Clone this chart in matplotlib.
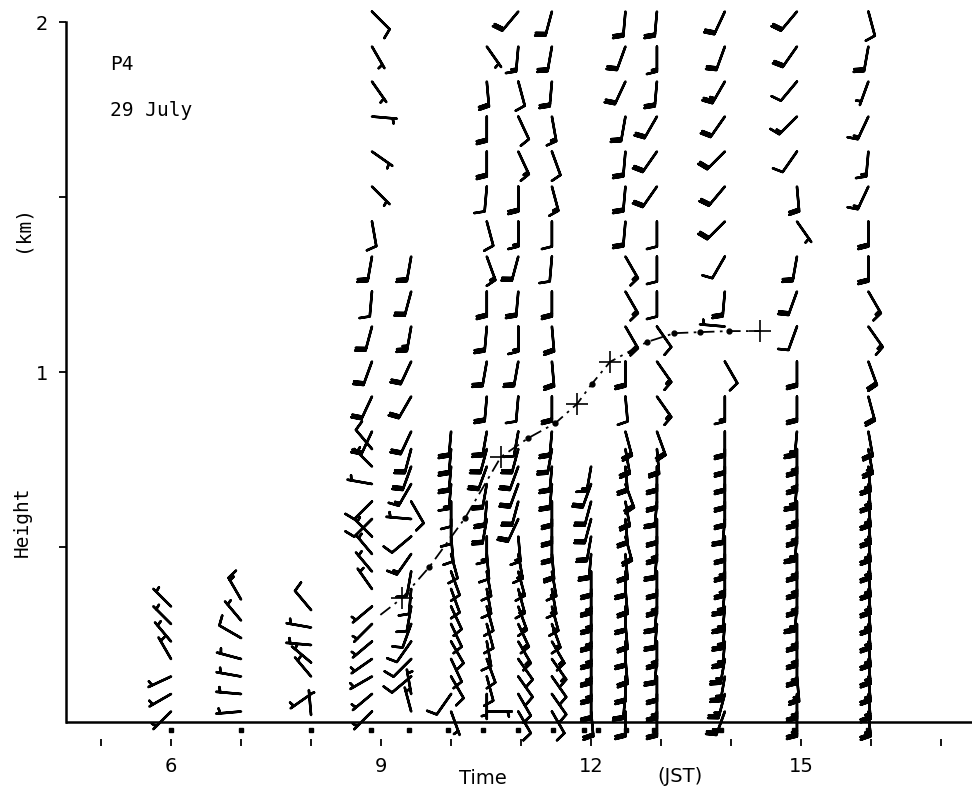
import numpy as np
import matplotlib.pyplot as plt

# sounding levels (km)
h_upper = [2.03, 1.93, 1.83, 1.73, 1.63, 1.53, 1.43, 1.33, 1.23, 1.13, 1.03, 0.93, 0.83]
h_lower = [0.78, 0.73, 0.68, 0.63, 0.58, 0.53, 0.48, 0.43, 0.38, 0.33, 0.28, 0.23, 0.18, 0.13, 0.08, 0.03]

# --- early morning soundings (weak winds, lowest 0.35 km) ---
t_A = 6.0
h_A = [0.33, 0.28, 0.23, 0.18, 0.13, 0.08, 0.03]
dir_A = [315, 315, 320, 330, 245, 240, 225]
spd_A = [5, 5, 5, 5, 5, 5, 5]

t_B = 7.0
h_B = [0.35, 0.29, 0.24, 0.18, 0.13, 0.08, 0.03]
dir_B = [330, 320, 300, 285, 280, 275, 265]
spd_B = [15, 5, 10, 5, 5, 5, 5]

t_C = 8.0
h_C = [0.32, 0.27, 0.22, 0.17, 0.13, 0.08, 0.02]
dir_C = [320, 280, 275, 310, 320, 235, 355]
spd_C = [10, 5, 5, 5, 5, 5, 5]

# --- full soundings ---
t_D = 8.87
h_D = h_upper + h_lower
dir_D = [135, 150, 145, 95, 125, 135, 170, 190, 185, 195, 200, 205, 205,
         320, 315, 280, 225, 225, 315, 320, 320, 325, 230, 225, 230, 235, 240, 230, 225]
spd_D = [10, 5, 5, 5, 5, 5, 10, 20, 10, 20, 20, 20, 20,
         10, 5, 5, 10, 10, 5, 5, 5, 5, 5, 5, 5, 5, 5, 5, 5]

t_E = 9.43
h_E = [1.33, 1.23, 1.13, 1.03, 0.93, 0.83] + h_lower
dir_E = [190, 195, 190, 205, 210, 205,
         195, 200, 210, 150, 275, 230, 215, 190, 185, 190, 200, 215, 225, 230, 350, 345]
spd_E = [20, 20, 25, 20, 20, 20,
         20, 20, 15, 10, 5, 10, 15, 10, 10, 10, 10, 10, 10, 10, 5, 5]

t_F = 10.0
h_F = [0.83] + h_lower
dir_F = [185, 185, 185, 185, 180, 180, 175, 165, 160, 160, 155, 155, 150, 155, 150, 215, 160]
spd_F = [20, 20, 20, 15, 10, 10, 10, 10, 10, 10, 10, 10, 10, 10, 10, 10, 5]

t_G = 10.51
h_G = h_upper[1:] + h_lower
dir_G = [145, 175, 180, 180, 185, 165, 160, 180, 185, 190, 185, 190,
         195, 200, 190, 185, 190, 180, 175, 170, 170, 165, 165, 170, 160, 165, 180, 90]
spd_G = [5, 20, 20, 20, 10, 10, 15, 20, 20, 20, 20, 20,
         20, 20, 20, 20, 20, 15, 10, 10, 10, 10, 10, 10, 10, 10, 5, 5]

t_H = 10.96
h_H = h_upper + h_lower
dir_H = [220, 185, 165, 155, 155, 180, 180, 195, 185, 180, 190, 185, 190,
         195, 200, 200, 195, 205, 175, 170, 165, 165, 160, 155, 150, 145, 145, 150, 150]
spd_H = [20, 15, 10, 10, 15, 20, 15, 20, 20, 15, 20, 10, 10,
         20, 20, 20, 20, 20, 15, 15, 15, 15, 15, 15, 15, 10, 10, 10, 10]

t_I = 11.44
h_I = h_upper + h_lower
dir_I = [195, 190, 185, 170, 160, 165, 180, 185, 180, 175, 175, 180, 185,
         190, 185, 185, 180, 180, 180, 175, 170, 170, 165, 160, 150, 145, 145, 145, 150]
spd_I = [20, 20, 20, 15, 10, 15, 10, 10, 20, 20, 20, 20, 20,
         20, 20, 20, 20, 20, 20, 20, 15, 15, 15, 15, 15, 15, 10, 10, 10]

t_J = 12.0
h_J = h_lower[1:]
dir_J = [190, 200, 195, 195, 190, 185, 180, 180, 180, 180, 180, 180, 180, 180, 175]
spd_J = [15, 20, 20, 20, 20, 20, 20, 25, 25, 25, 25, 25, 25, 20, 20]

t_K = 12.49
h_K = h_upper + h_lower
dir_K = [185, 200, 205, 190, 185, 185, 185, 150, 150, 150, 180, 175, 165,
         170, 175, 160, 170, 175, 165, 175, 180, 175, 180, 175, 180, 175, 180, 185, 180]
spd_K = [20, 20, 20, 20, 20, 20, 20, 15, 15, 20, 20, 10, 20,
         20, 20, 20, 20, 20, 20, 20, 20, 20, 20, 20, 20, 20, 20, 20, 20]

t_L = 12.94
h_L = h_upper + h_lower
dir_L = [185, 180, 185, 210, 215, 215, 180, 180, 180, 145, 145, 145, 160,
         175, 180, 180, 185, 180, 180, 185, 180, 180, 185, 185, 180, 185, 180, 180, 180]
spd_L = [20, 15, 20, 20, 20, 20, 10, 10, 10, 10, 15, 15, 20,
         20, 20, 20, 20, 20, 25, 20, 20, 25, 20, 20, 25, 20, 20, 25, 20]

t_M = 13.91
h_M = h_upper + h_lower
dir_M = [205, 200, 210, 215, 225, 220, 225, 210, 185, 275, 150, 180, 180,
         180, 180, 180, 180, 185, 180, 180, 180, 185, 185, 185, 185, 190, 190, 195, 200]
spd_M = [20, 20, 25, 20, 20, 20, 20, 10, 20, 5, 10, 15, 20,
         20, 20, 20, 20, 20, 20, 25, 25, 25, 25, 25, 25, 25, 25, 25, 25]

t_N = 14.94
h_N = h_upper + h_lower
dir_N = [220, 215, 220, 225, 215, 175, 145, 190, 200, 200, 180, 180, 185,
         180, 180, 185, 180, 180, 185, 180, 180, 180, 185, 180, 180, 180, 175, 180, 180]
spd_N = [20, 20, 10, 15, 10, 20, 5, 20, 20, 10, 20, 20, 25,
         25, 25, 25, 25, 25, 25, 25, 25, 25, 25, 25, 25, 25, 25, 25, 25]

t_O = 15.96
h_O = h_upper + h_lower
dir_O = [165, 190, 200, 205, 185, 205, 180, 180, 150, 145, 160, 165, 170,
         170, 175, 175, 175, 175, 175, 175, 175, 175, 175, 175, 175, 175, 175, 175, 175]
spd_O = [10, 20, 5, 15, 15, 15, 20, 20, 15, 15, 20, 20, 20,
         25, 25, 25, 25, 25, 25, 25, 25, 25, 25, 25, 25, 25, 25, 25, 25]

# mixed layer top (dash-dot line)
bl_t = [8.99, 9.30, 9.69, 10.20, 10.71, 11.10, 11.49, 11.80, 12.01, 12.27, 12.80, 13.19, 13.56, 13.97, 14.41]
bl_h = [0.306, 0.354, 0.443, 0.583, 0.757, 0.811, 0.854, 0.909, 0.966, 1.029, 1.086, 1.111, 1.114, 1.117, 1.117]
dot_t = [9.69, 10.20, 11.10, 11.49, 12.01, 12.80, 13.19, 13.56, 13.97]
dot_h = [0.443, 0.583, 0.811, 0.854, 0.966, 1.086, 1.111, 1.114, 1.117]
cross_t = [9.30, 10.71, 11.80, 12.27, 14.41]
cross_h = [0.354, 0.757, 0.909, 1.029, 1.117]

# launch marks under the ground line
launch_t = [6.0, 7.0, 8.0, 8.85, 9.4, 9.95, 10.45, 10.95, 11.45, 11.9, 12.1, 12.5, 12.9, 13.85, 14.9, 15.95]

columns = [
    (t_A, h_A, dir_A, spd_A), (t_B, h_B, dir_B, spd_B), (t_C, h_C, dir_C, spd_C),
    (t_D, h_D, dir_D, spd_D), (t_E, h_E, dir_E, spd_E), (t_F, h_F, dir_F, spd_F),
    (t_G, h_G, dir_G, spd_G), (t_H, h_H, dir_H, spd_H), (t_I, h_I, dir_I, spd_I),
    (t_J, h_J, dir_J, spd_J), (t_K, h_K, dir_K, spd_K), (t_L, h_L, dir_L, spd_L),
    (t_M, h_M, dir_M, spd_M), (t_N, h_N, dir_N, spd_N), (t_O, h_O, dir_O, spd_O),
]

fig = plt.figure(figsize=(9.72, 7.93), dpi=100)
ax = fig.add_axes([66 / 972, 47 / 793, 1 - 66 / 972, 1 - 47 / 793])
ax.set_xlim(4.5, 17.44)
ax.set_ylim(-0.0686, 2.063)

for t, h, d, s in columns:
    d = np.radians(d)
    s = np.asarray(s, dtype=float)
    u = -s * np.sin(d)
    v = -s * np.cos(d)
    ax.barbs(np.full(len(h), t), h, u, v, length=6.0, pivot='tip',
             sizes=dict(spacing=0.11, height=0.4, width=0.2),
             color='k', linewidth=1.8, capstyle='round', joinstyle='round', zorder=3)

ax.plot(bl_t, bl_h, color='k', lw=1.3, ls=(0, (7, 3, 1.5, 3)), zorder=4)
ax.plot(dot_t, dot_h, 'o', color='k', ms=3.5, zorder=4)
ax.plot(cross_t, cross_h, '+', color='k', ms=16, mew=1.2, zorder=4)
ax.plot(launch_t, [-0.022] * len(launch_t), 's', color='k', ms=3.5, zorder=4)

ax.axhline(0, color='k', lw=1.8, zorder=5)
for side in ['top', 'right', 'bottom']:
    ax.spines[side].set_visible(False)
ax.spines['left'].set_bounds(0, 2)
ax.spines['left'].set_linewidth(1.8)

ax.set_yticks([0.5, 1, 1.5, 2])
ax.set_yticklabels(['', '1', '', '2'])
ax.set_xticks(range(5, 18))
ax.set_xticklabels(['', '6', '', '', '9', '', '', '12', '', '', '15', '', ''])
ax.tick_params(axis='y', direction='out', length=5, width=1.3, labelsize=14, pad=8)
ax.tick_params(axis='x', direction='in', length=5, width=1.3, labelsize=14, pad=8)

fig.text(110 / 972, 1 - 65 / 793, 'P4', family='DejaVu Sans Mono', fontsize=14, va='center')
fig.text(110 / 972, 1 - 110 / 793, '29 July', family='DejaVu Sans Mono', fontsize=14, va='center')
fig.text(22 / 972, 1 - 522 / 793, 'Height', family='DejaVu Sans Mono', fontsize=14,
         rotation=90, ha='center', va='center')
fig.text(22 / 972, 1 - 228 / 793, '(km)', family='DejaVu Sans Mono', fontsize=14,
         rotation=90, ha='center', va='center')
fig.text(483 / 972, 1 - 778 / 793, 'Time', fontsize=14, ha='center', va='center')
fig.text(680 / 972, 1 - 776 / 793, '(JST)', fontsize=14, ha='center', va='center')

plt.savefig('out.png', dpi=100)
